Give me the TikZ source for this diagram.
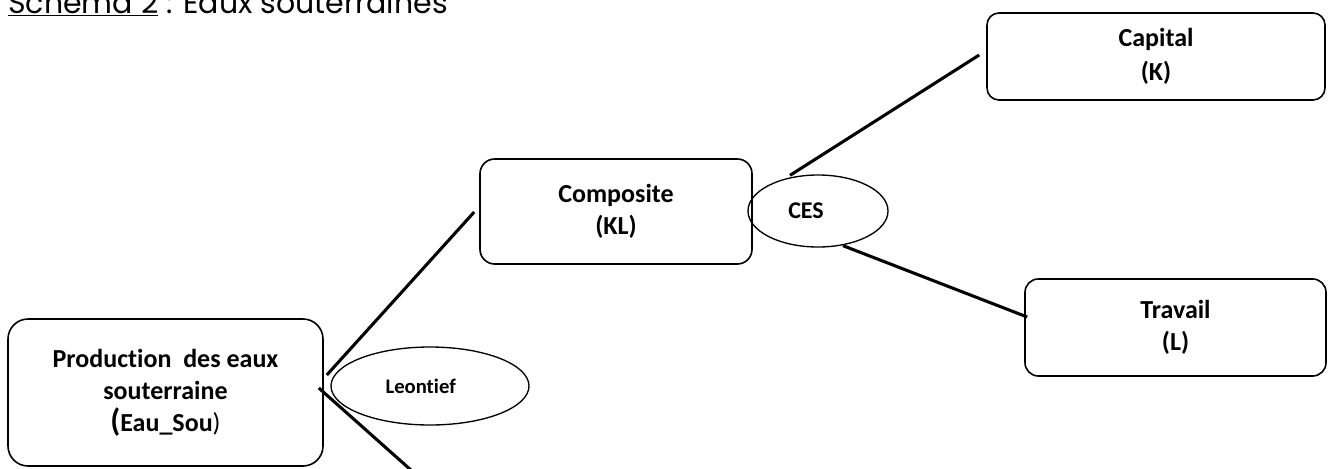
\documentclass[tikz,border=0pt]{standalone}
\usepackage{fontspec}
\setmainfont{Carlito}[Ligatures=NoCommon]
\newfontfamily\titrefont{Poppins}
\usetikzlibrary{shapes.geometric, calc}
\tikzset{
  boite/.style={
    rectangle, rounded corners=11pt, draw, line width=1.2pt,
    inner sep=0pt, align=center,
    font=\bfseries\fontsize{19.5}{24}\selectfont
  },
  forme/.style={ellipse, draw, line width=1pt, inner sep=0pt,
    font=\bfseries},
  trait/.style={line width=2.3pt}
}

\begin{document}
\begin{tikzpicture}[x=0.75pt, y=-0.75pt]

  \useasboundingbox (0,0) rectangle (1333,468);

  \node[anchor=base west, inner sep=0pt, font=\titrefont\fontsize{22.5}{26}\selectfont]
       (titre) at (8,13.5) {\underline{Schéma 2} : Eaux souterraines};

  %% boites
  \node[boite, rounded corners=15pt, minimum width=236.25pt, minimum height=110.25pt]
       (prod) at (165.5,392.5)
       {Production\ \ des eaux\\souterraine\\{\fontsize{24}{24}\selectfont(}Eau\_Sou{\mdseries)}};
  \node[boite, minimum width=204pt, minimum height=78.75pt] (comp) at (616,211.5)
       {Composite\\(KL)};
  \node[boite, rounded corners=9pt, minimum width=253.5pt, minimum height=65.25pt]
       (cap) at (1156,56.5) {Capital\\[2pt](K)};
  \node[boite, rounded corners=10pt, minimum width=225.75pt, minimum height=72.75pt]
       (trav) at (1175.5,327.5) {Travail\\(L)};

  %% fonctions
  \node[forme, minimum width=148.5pt, minimum height=58.5pt,
        font=\bfseries\fontsize{15.5}{18}\selectfont] (leon) at (430,386) {Leontief\hspace*{14pt}};
  \node[forme, minimum width=105pt, minimum height=54pt,
        font=\bfseries\fontsize{18}{20}\selectfont] (ces) at (818,211) {CES\hspace*{18pt}};

  \coordinate (bas) at (430,487);

  \draw[trait] ($(prod.east)+(3,-17.5)$) -- ($(comp.west)+(-5,0.5)$);
  \draw[trait] ($(prod.east)+(-5,-4.5)$) -- (bas);
  \draw[trait] ($(ces.north)+(-28,1)$) -- ($(cap.west)+(-7,-1.5)$);
  \draw[trait] ($(ces.south)+(25,-2)$) -- ($(trav.west)+(3,-10.5)$);

\end{tikzpicture}
\end{document}
